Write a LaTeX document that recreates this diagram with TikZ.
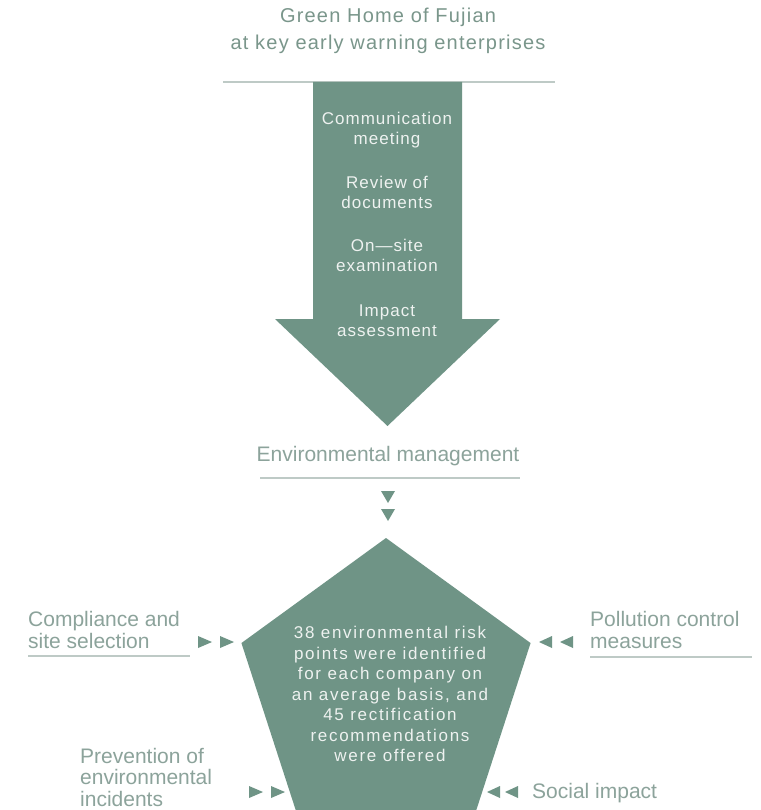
\documentclass[tikz,border=0pt]{standalone}
\usepackage{fontspec}
\setmainfont{Liberation Sans}
\newfontfamily\trackA[LetterSpace=6,WordSpace=1.4]{Liberation Sans}
\newfontfamily\trackB[LetterSpace=6]{Liberation Sans}
\newfontfamily\trackC[LetterSpace=10]{Liberation Sans}
\usetikzlibrary{shapes.geometric}
\definecolor{gfill}{RGB}{111,148,134}
\definecolor{gtext}{RGB}{140,163,155}
\definecolor{gtitle}{RGB}{122,150,139}
\definecolor{gline}{RGB}{190,202,198}
\definecolor{wtext}{RGB}{238,242,240}
\begin{document}
\begin{tikzpicture}[x=1pt,y=-1pt,
  title/.style={text=gtitle, align=center, inner sep=0pt, font=\trackA\fontsize{20}{27}\selectfont},
  arrtext/.style={text=wtext, align=center, inner sep=0pt, font=\trackB\fontsize{17}{20}\selectfont},
  pentext/.style={text=wtext, align=center, inner sep=0pt, font=\trackC\fontsize{17}{20.5}\selectfont},
  lbl/.style={text=gtext, align=left, inner sep=0pt, font=\fontsize{21}{21.5}\selectfont},
  rule/.style={draw=gline, line width=1.2pt},
  tri/.style={fill=gfill}
]
\clip (0,0) rectangle (760,810);
\fill[white] (0,0) rectangle (760,810);

% title
\node[title] (title) at (388,31) {Green Home of Fujian\\at key early warning enterprises};
\coordinate (tl1) at (223,82);
\coordinate (tl2) at (555,82);
\draw[rule] (tl1) -- (tl2);

% big arrow
\fill[gfill] (313,82) -- (462,82) -- (462,319) -- (500,319) -- (387.5,426) -- (275,319) -- (313,319) -- cycle;
\node[arrtext] (a1) at (387,130) {Communication\\meeting};
\node[arrtext] (a2) at (387,192) {Review of\\documents};
\node[arrtext] (a3) at (387,255) {On\textemdash site\\examination};
\node[arrtext] (a4) at (387,321) {Impact\\assessment};

% environmental management
\node[lbl, align=center] (env) at (388,456) {Environmental management};
\coordinate (el1) at (260,478);
\coordinate (el2) at (520,478);
\draw[rule] (el1) -- (el2);
\fill[tri] (381,491) -- (395,491) -- (388,503) -- cycle;
\fill[tri] (381,509) -- (395,509) -- (388,521) -- cycle;

% pentagon
\node[regular polygon, regular polygon sides=5, minimum size=304pt, inner sep=0pt, fill=gfill] (pent) at (386,690) {};
\node[pentext] (ptext) at (390,694) {38 environmental risk\\points were identified\\for each company on\\an average basis, and\\45 rectification\\recommendations\\were offered};

% left labels
\node[lbl, anchor=west] (comp) at (28,630) {Compliance and\\site selection};
\coordinate (cl1) at (28,656);
\coordinate (cl2) at (190,656);
\draw[rule] (cl1) -- (cl2);
\fill[tri] (198,636) -- (198,648) -- (212,642) -- cycle;
\fill[tri] (220,636) -- (220,648) -- (234,642) -- cycle;

\node[lbl, anchor=west] (prev) at (80,777) {Prevention of\\environmental\\incidents};
\fill[tri] (249,786) -- (249,798) -- (263,792) -- cycle;
\fill[tri] (271,786) -- (271,798) -- (285,792) -- cycle;

% right labels
\node[lbl, anchor=west] (poll) at (590,630) {Pollution control\\measures};
\coordinate (pl1) at (590,657);
\coordinate (pl2) at (752,657);
\draw[rule] (pl1) -- (pl2);
\fill[tri] (552,636) -- (552,648) -- (539,642) -- cycle;
\fill[tri] (573,636) -- (573,648) -- (560,642) -- cycle;

\node[lbl, anchor=west] (soc) at (532,793) {Social impact};
\fill[tri] (500,786) -- (500,798) -- (487,792) -- cycle;
\fill[tri] (518,786) -- (518,798) -- (505,792) -- cycle;
\end{tikzpicture}
\end{document}
